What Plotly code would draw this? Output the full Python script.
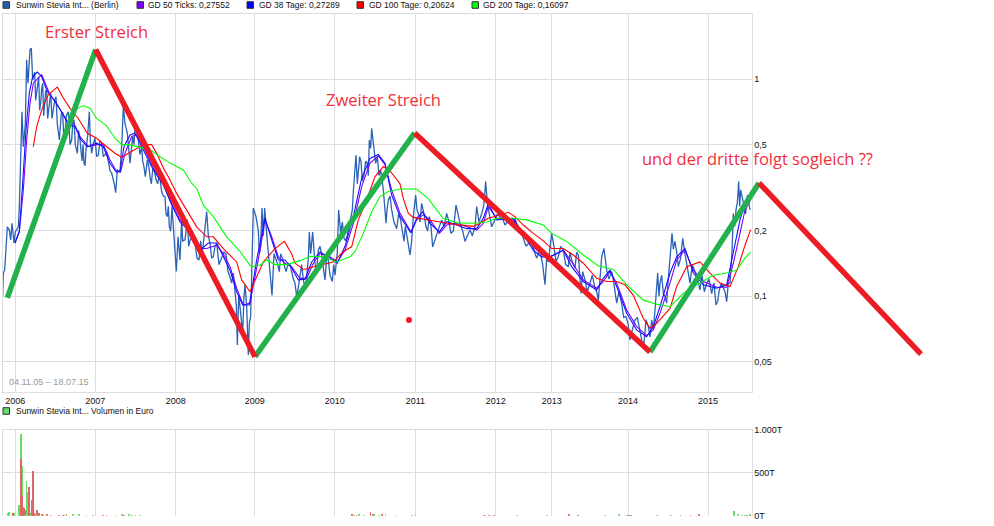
import plotly.graph_objects as go

W, H = 994, 526

# x unit is the running trading-day number of the chart (about 240 per year)
year_days = [46, 286, 527, 764, 1004, 1246, 1487, 1655, 1884, 2124]
year_labels = ['2006', '2007', '2008', '2009', '2010', '2011', '2012', '2013', '2014', '2015']

price_tick_vals = [1, 0.5, 0.2, 0.1, 0.05]
price_tick_text = ['1', '0,5', '0,2', '0,1', '0,05']
vol_tick_vals = [0, 500, 1000]
vol_tick_text = ['0T', '500T', '1.000T']

# Kurs
price_t = [8, 10, 14, 18, 18, 22, 28, 32, 36, 42, 46, 55, 58, 63, 66, 70, 76, 80, 84, 90, 94, 98, 104, 110, 116, 122,
           128, 134, 140, 146, 152, 160, 168, 178, 184, 195, 205, 215, 222, 232, 240, 252, 258, 268, 275, 285, 295,
           305, 315, 325, 335, 340, 347, 352, 360, 366, 370, 375, 382, 390, 398, 405, 415, 425, 432, 436, 442, 450,
           458, 468, 478, 485, 495, 502, 508, 516, 522, 529, 534, 540, 545, 555, 562, 570, 585, 597, 607, 620, 630,
           640, 650, 665, 678, 690, 700, 705, 712, 720, 728, 735, 745, 752, 760, 768, 778, 786, 794, 800, 810, 816,
           822, 832, 842, 852, 865, 875, 885, 890, 900, 910, 920, 928, 932, 938, 945, 955, 965, 975, 985, 997, 1005,
           1016, 1022, 1032, 1042, 1053, 1060, 1068, 1075, 1083, 1092, 1102, 1108, 1115, 1122, 1132, 1142, 1150, 1158,
           1165, 1175, 1190, 1202, 1212, 1220, 1230, 1240, 1247, 1255, 1265, 1278, 1288, 1298, 1310, 1325, 1340, 1353,
           1368, 1380, 1395, 1410, 1425, 1430, 1445, 1457, 1462, 1475, 1490, 1500, 1515, 1530, 1545, 1560, 1570, 1585,
           1600, 1620, 1635, 1645, 1655, 1662, 1675, 1690, 1705, 1715, 1735, 1743, 1755, 1770, 1785, 1795, 1805, 1812,
           1820, 1840, 1850, 1865, 1878, 1890, 1905, 1920, 1932, 1945, 1955, 1965, 1973, 1980, 1990, 2000, 2008, 2016,
           2025, 2035, 2048, 2060, 2070, 2085, 2100, 2120, 2135, 2148, 2158, 2170, 2180, 2190, 2200, 2208, 2216, 2222,
           2232, 2242, 2250]
price = [.100, .128, .132, .169, .150, .209, .202, .182, .217, .176, .198, .209, .259, .473, .709, .489, .627, 1.23,
         .959, 1.37, 1.39, .995, 1.08, .863, 1.03, .774, .959, .75, .893, .723, .863, .723, .831, .525, .697, .564,
         .709, .525, .651, .456, .525, .411, .473, .709, .456, .535, .448, .508, .448, .418, .369, .344, .30, .382,
         .375, .525, .75, .627, .564, .411, .545, .605, .525, .489, .395, .356, .425, .356, .382, .344, .369, .303,
         .288, .233, .209, .259, .188, .130, .188, .147, .225, .182, .225, .182, .176, .147, .157, .246, .176, .152,
         .176, .150, .157, .123, .128, .103, .0597, .0896, .0675, .113, .0536, .0806, .255, .233, .157, .255, .255,
         .195, .123, .101, .157, .142, .157, .142, .142, .130, .115, .100, .128, .119, .123, .198, .157, .198, .142,
         .163, .157, .119, .147, .117, .125, .250, .195, .185, .192, .241, .304, .448, .369, .418, .362, .411, .525,
         .594, .473, .440, .382, .309, .217, .278, .250, .205, .225, .179, .192, .155, .233, .293, .241, .268, .209,
         .233, .169, .195, .225, .241, .195, .263, .217, .179, .202, .209, .259, .241, .338, .268, .209, .237, .229,
         .213, .225, .229, .198, .185, .176, .166, .163, .113, .144, .195, .169, .152, .163, .137, .147, .155, .103,
         .119, .115, .109, .096, .152, .166, .132, .119, .093, .093, .0806, .0629, .0778, .0675, .0607, .0725, .0778,
         .0865, .128, .115, .103, .093, .137, .195, .179, .137, .185, .142, .115, .128, .107, .115, .103, .0912, .107,
         .109, .0945, .115, .241, .250, .338, .309, .259, .293, .250]

# second pass over the dense stretches of the Kurs line
price_more_t = [107, 113, 119, 125, 131, 137, 143, 149, 156, 164, 172, 181, 188, 191, 199, 210, 218, 226, 236, 246,
                249, 255, 263, 271, 279, 290, 300, 310, 320, 330, 343, 402, 410, 420, 428, 446, 454, 463, 473, 490,
                498, 505, 512, 526, 537, 548, 559, 566, 577, 591, 602, 612, 625, 635, 645, 657, 672, 684, 695, 709,
                716, 724, 732, 740, 748, 775, 782, 790, 805, 838, 847, 858, 870, 880, 895, 905, 915, 925, 942, 950,
                960, 970, 980, 990, 1001, 1012, 1027, 1037, 1047, 1057, 1064, 1072, 1079, 1087, 1097, 1105, 1112, 1127,
                1137, 1146, 1154, 1161, 1170, 1182, 1196, 1207, 1216, 1225, 1235, 1251, 1260, 1272, 1283, 1293, 1304,
                1317, 1332, 1347, 1360, 1374, 1388, 1402, 1417, 1437, 1451, 1468, 1482, 1495, 1507, 1522, 1537, 1552,
                1565, 1578, 1592, 1610, 1628, 1640, 1650, 1668, 1682, 1697, 1710, 1725, 1730, 1748, 1762, 1777, 1790,
                1800, 1827, 1835, 1845, 1857, 1871, 1884, 1897, 1912, 1926, 1938, 1950, 1960, 1977, 1985, 1995, 2004,
                2020, 2030, 2042, 2054, 2066, 2077, 2093, 2106, 2113, 2127, 2142, 2153, 2164, 2175, 2185, 2196, 2204,
                2212, 2219, 2227, 2237, 2246]
price_more = [.80, .95, .72, .90, .68, .88, .66, .80, .66, .80, .62, .60, .70, .55, .68, .50, .62, .50, .58, .42,
              .50, .40, .55, .52, .50, .44, .52, .44, .46, .38, .33, .50, .58, .45, .42, .40, .33, .38, .33, .29,
              .24, .26, .20, .16, .16, .18, .20, .17, .20, .15, .18, .19, .19, .15, .17, .14, .16, .13, .115, .09,
              .10, .075, .10, .09, .075, .20, .17, .19, .16, .13, .15, .13, .14, .12, .11, .14, .11, .15, .17, .13,
              .17, .135, .15, .125, .14, .16, .22, .18, .21, .25, .37, .33, .44, .34, .42, .36, .48, .41,
              .36, .35, .26, .25, .29, .22, .24, .20, .21, .17, .18, .25, .22, .24, .20, .21, .18,
              .21, .21, .22, .20, .24, .20, .19, .19, .22, .26, .24, .22, .24, .23, .22, .21, .21,
              .20, .17, .18, .15, .14, .15, .17, .145, .17, .14, .16, .135, .16, .13, .105, .125, .105,
              .125, .12, .13, .105, .105, .08, .075, .07, .08, .062, .078, .065, .07, .10, .125, .10, .115,
              .165, .16, .15, .16, .125, .14, .12, .125, .105, .12, .115, .095, .115, .105, .115, .16, .21,
              .27, .26, .28, .24, .27]

# GD 50 Ticks
gd50_t = [45, 58, 70, 80, 90, 100, 125, 135, 150, 170, 190, 205, 222, 240, 265, 290, 310, 330, 350, 362, 375, 395, 410,
          430, 460, 490, 515, 540, 570, 600, 620, 650, 670, 690, 710, 730, 750, 760, 770, 780, 795, 815, 835, 855, 875,
          900, 920, 940, 960, 990, 1012, 1035, 1060, 1085, 1110, 1135, 1155, 1175, 1200, 1233, 1250, 1270, 1290, 1318,
          1340, 1370, 1400, 1430, 1450, 1465, 1490, 1540, 1570, 1600, 1625, 1650, 1690, 1715, 1750, 1790, 1810, 1830,
          1850, 1880, 1910, 1940, 1960, 1980, 2010, 2030, 2055, 2080, 2110, 2150, 2180, 2200, 2220, 2235, 2252]
gd50 = [.176, .198, .309, .525, .774, .959, 1.05, .97, .85, .774, .687, .627, .627, .545, .489, .50, .50, .425, .375,
        .375, .456, .545, .554, .489, .39, .332, .268, .225, .202, .166, .166, .172, .157, .137, .109, .0912, .093,
        .111, .137, .163, .225, .188, .152, .142, .137, .121, .121, .142, .157, .152, .144, .163, .217, .32, .411, .443,
        .404, .309, .241, .198, .225, .238, .225, .195, .213, .217, .209, .202, .217, .259, .229, .225, .195, .169,
        .156, .152, .163, .144, .119, .109, .117, .13, .115, .0865, .0725, .0659, .070, .0835, .115, .147, .163, .132,
        .117, .11, .11, .142, .195, .25, .278]

# GD 38 Tage
gd38_t = [45, 58, 68, 78, 88, 98, 112, 125, 140, 165, 190, 205, 225, 243, 262, 290, 310, 330, 348, 360, 372, 390, 405,
          430, 460, 490, 515, 540, 570, 600, 625, 650, 670, 690, 710, 728, 748, 760, 770, 780, 795, 815, 835, 855, 875,
          895, 915, 935, 960, 990, 1012, 1035, 1060, 1085, 1110, 1135, 1155, 1175, 1200, 1233, 1250, 1268, 1290, 1318,
          1340, 1370, 1400, 1430, 1450, 1465, 1490, 1540, 1570, 1600, 1625, 1650, 1690, 1715, 1750, 1790, 1810, 1830,
          1850, 1880, 1910, 1940, 1960, 1980, 2010, 2030, 2055, 2080, 2110, 2150, 2180, 2200, 2220, 2235, 2252]
gd38 = [.176, .2, .332, .584, .863, 1.03, 1.08, 1.03, .893, .79, .687, .616, .606, .525, .489, .508, .489, .41, .375,
        .375, .489, .554, .565, .472, .382, .326, .264, .22, .198, .163, .176, .176, .152, .132, .105, .0912, .0912,
        .119, .147, .176, .229, .182, .147, .147, .135, .119, .12, .144, .16, .15, .142, .17, .233, .35, .432, .45,
        .41, .293, .233, .196, .229, .245, .217, .198, .221, .213, .205, .205, .229, .268, .225, .229, .192, .163,
        .152, .152, .163, .137, .117, .107, .121, .132, .111, .0835, .07, .0651, .0725, .0895, .128, .152, .166, .128,
        .113, .109, .113, .157, .225, .268, .298]

# GD 100 Tage
gd100_t = [100, 110, 125, 145, 172, 190, 210, 235, 262, 290, 320, 345, 365, 385, 410, 430, 455, 470, 490, 505, 530,
           560, 590, 620, 640, 670, 710, 725, 750, 770, 790, 825, 853, 875, 885, 910, 945, 980, 1000, 1030, 1055, 1075,
           1100, 1125, 1150, 1170, 1200, 1210, 1225, 1240, 1280, 1320, 1370, 1420, 1440, 1465, 1500, 1525, 1545, 1570,
           1600, 1630, 1655, 1690, 1720, 1750, 1790, 1820, 1850, 1875, 1900, 1930, 1950, 1970, 2010, 2030, 2060, 2100,
           2130, 2160, 2190, 2215, 2235, 2252]
gd100 = [.489, .605, .723, .85, .92, .82, .735, .66, .564, .535, .489, .456, .437, .456, .481, .50, .50, .456, .39,
         .356, .298, .25, .209, .188, .188, .166, .144, .119, .105, .123, .144, .166, .179, .157, .142, .133, .137,
         .142, .144, .161, .169, .225, .278, .356, .396, .378, .33, .282, .241, .231, .225, .22, .214, .21, .217, .229,
         .237, .244, .233, .213, .195, .18, .166, .166, .155, .142, .121, .117, .117, .113, .101, .079, .0713, .0751,
         .088, .111, .137, .144, .128, .115, .111, .137, .172, .203]

# GD 200 Tage
gd200_t = [205, 225, 250, 270, 290, 320, 345, 365, 385, 420, 450, 480, 510, 550, 575, 590, 610, 640, 680, 720, 750,
           760, 780, 800, 825, 860, 900, 930, 970, 1010, 1050, 1065, 1090, 1115, 1140, 1165, 1200, 1250, 1285, 1310,
           1330, 1370, 1420, 1460, 1490, 1540, 1580, 1630, 1655, 1700, 1750, 1795, 1840, 1880, 1930, 1970, 2010, 2050,
           2090, 2140, 2180, 2210, 2235, 2252]
gd200 = [.68, .723, .757, .735, .66, .61, .535, .50, .50, .486, .473, .44, .411, .382, .332, .314, .263, .233, .188,
         .161, .139, .137, .139, .147, .14, .14, .146, .153, .152, .144, .152, .161, .195, .245, .288, .304, .312, .312,
         .282, .25, .229, .218, .217, .22, .229, .229, .225, .213, .195, .179, .155, .138, .133, .113, .096, .092,
         .0895, .103, .113, .125, .128, .132, .15, .16]

# Volumen in Euro (Tsd.)
vol_green_t = [22, 25, 40, 55, 58, 62, 65, 68, 72, 78, 82, 85, 90, 100, 105, 130, 150, 190, 218, 235, 258, 278, 345,
               365, 385, 395, 405, 418, 1060, 1075, 1090, 1120, 1135, 1155, 1185, 1235, 1455, 1550, 1640, 1732, 1813,
               1855, 1880, 1970, 2012, 2200, 2213, 2225, 2233, 2248]
vol_green = [40, 46, 35, 124, 30, 950, 578, 110, 45, 403, 279, 105, 40, 30, 25, 10, 10, 10, 12, 12, 10, 10, 10, 12, 14,
             10, 10, 10, 10, 14, 10, 12, 10, 14, 8, 10, 8, 8, 8, 10, 8, 16, 10, 10, 8, 54, 14, 10, 10, 14]
vol_red_t = [38, 62, 66, 70, 75, 86, 94, 97, 102, 110, 115, 125, 140, 150, 175, 187, 198, 308, 318, 370, 1055, 1068,
             1110, 1118, 1145, 1245, 1450, 1465, 1480, 1705, 1732, 1885, 1892, 2040, 2070, 2095, 2240]
vol_red = [30, 667, 229, 97, 66, 337, 190, 519, 40, 66, 39, 12, 16, 10, 10, 10, 18, 10, 8, 10, 12, 10, 50, 14, 18, 8,
           10, 8, 10, 12, 8, 10, 10, 8, 8, 14, 6]

# von Hand eingezeichnete Trendlinien
up_t = [[22, 287], [765, 1244], [1950, 2277]]
up_p = [[.0984, 1.37], [.0527, .566], [.0554, .333]]
down_t = [[287, 765], [1244, 1950], [2277, 2763]]
down_p = [[1.37, .0527], [.566, .0554], [.333, .0542]]
dot_t = [1227]
dot_p = [.0778]

TICK_FONT = dict(family='Liberation Sans', size=9, color='#111111')
GRID = '#DDDDDD'
PX_LEFT, PX_RIGHT = 2.5, 751.5


def yfrac(px):
    return 1 - px / H


# merge both reading passes of the Kurs line in time order
merged = sorted(zip(price_t + price_more_t, price + price_more), key=lambda r: r[0])
merged_t = [r[0] for r in merged]
merged_p = [r[1] for r in merged]

fig = go.Figure()

fig.add_trace(go.Scatter(x=merged_t, y=merged_p, mode='lines', line=dict(color='#2A62B8', width=1.3),
                         xaxis='x', yaxis='y'))
for t, v, c in [(gd50_t, gd50, '#7F00FF'), (gd38_t, gd38, '#1010FF'), (gd100_t, gd100, '#FF0000'),
                (gd200_t, gd200, '#00FF00')]:
    fig.add_trace(go.Scatter(x=t, y=v, mode='lines', line=dict(color=c, width=1.1), xaxis='x', yaxis='y'))

fig.add_trace(go.Bar(x=vol_green_t, y=vol_green, width=3, marker=dict(color='#66DD66', line_width=0),
                     xaxis='x2', yaxis='y2'))
fig.add_trace(go.Bar(x=vol_red_t, y=vol_red, width=3, marker=dict(color='#E06666', line_width=0),
                     xaxis='x2', yaxis='y2'))

# trend strokes run past the plot frame, so they live on a full-page axis pair
for t, p in zip(up_t, up_p):
    fig.add_trace(go.Scatter(x=t, y=p, mode='lines', line=dict(color='#22B14C', width=5.5), xaxis='x3', yaxis='y3'))
for t, p in zip(down_t, down_p):
    fig.add_trace(go.Scatter(x=t, y=p, mode='lines', line=dict(color='#ED1C24', width=5.5), xaxis='x3', yaxis='y3'))
fig.add_trace(go.Scatter(x=dot_t, y=dot_p, mode='markers', marker=dict(color='#ED1C24', size=6),
                         xaxis='x3', yaxis='y3'))

x_common = dict(range=[7.5, 2254.5], domain=[PX_LEFT / W, PX_RIGHT / W], tickmode='array', tickvals=year_days,
                showgrid=True, gridcolor=GRID, gridwidth=1, zeroline=False, ticks='', showline=True,
                linecolor=GRID, linewidth=1, automargin=False)

fig.update_layout(
    width=W, height=H,
    margin=dict(l=0, r=0, t=0, b=0),
    paper_bgcolor='white',
    plot_bgcolor='rgba(0,0,0,0)',
    showlegend=False,
    barmode='overlay',
    bargap=0,
    xaxis=dict(x_common, ticktext=year_labels, tickfont=TICK_FONT, anchor='y', mirror=True),
    yaxis=dict(type='log', range=[-1.4396, 0.3009], domain=[yfrac(391.7), yfrac(14)], side='right',
               tickmode='array', tickvals=price_tick_vals, ticktext=price_tick_text, tickfont=TICK_FONT,
               showgrid=True, gridcolor=GRID, zeroline=False, ticks='', showline=True, linecolor=GRID,
               mirror=True, anchor='x', automargin=False),
    xaxis2=dict(x_common, showticklabels=False, anchor='y2', side='top'),
    yaxis2=dict(range=[0, 1000], domain=[yfrac(515.7), yfrac(429.7)], side='right', tickmode='array',
                tickvals=vol_tick_vals, ticktext=vol_tick_text, tickfont=TICK_FONT, showgrid=True, gridcolor=GRID,
                zeroline=False, ticks='', showline=True, linecolor=GRID, mirror=True, anchor='x2', automargin=False),
    xaxis3=dict(range=[0, W * 3], domain=[0, 1], visible=False, anchor='y3', automargin=False),
    yaxis3=dict(type='log', range=[-2.0585, 0.3654], domain=[0, 1], visible=False, anchor='x3', automargin=False),
)

legend_items = [
    (3, 14.7, 'Sunwin Stevia Int... (Berlin)', '#2060B0', 5),
    (137, 147, 'GD 50 Ticks: 0,27552', '#7F00FF', 5),
    (247, 258, 'GD 38 Tage: 0,27289', '#0000FF', 5),
    (357, 368, 'GD 100 Tage: 0,20624', '#FF0000', 5),
    (472, 482, 'GD 200 Tage: 0,16097', '#00FF00', 5),
    (3, 14.7, 'Sunwin Stevia Int... Volumen in Euro', '#66DD66', 411),
]
for box_x, text_x, label, color, cy in legend_items:
    fig.add_shape(type='rect', xref='paper', yref='paper', x0=box_x / W, x1=(box_x + 6.5) / W,
                  y0=yfrac(cy + 3.3), y1=yfrac(cy - 3.3), fillcolor=color, line=dict(color='#333333', width=1))
    fig.add_annotation(xref='paper', yref='paper', x=text_x / W, y=yfrac(cy), text=label, showarrow=False,
                       xanchor='left', yanchor='middle', font=dict(family='Liberation Sans', size=8.5, color='#111111'),
                       borderpad=0)

fig.add_annotation(xref='paper', yref='paper', x=8 / W, y=yfrac(382), text='04.11.05 – 18.07.15', showarrow=False,
                   xanchor='left', yanchor='middle', font=dict(family='Liberation Sans', size=9, color='#999999'),
                   borderpad=0)

for px, py, label in [(44, 32, 'Erster Streich'), (325, 99, 'Zweiter Streich'),
                      (641, 158, 'und der dritte folgt sogleich ??')]:
    fig.add_annotation(xref='paper', yref='paper', x=px / W, y=yfrac(py), text=label, showarrow=False,
                       xanchor='left', yanchor='middle', font=dict(family='Open Sans', size=16.5, color='#F0303A'),
                       borderpad=0)

fig.write_html("out.html", config=dict(displayModeBar=False), post_script="document.body.style.margin='0';")
